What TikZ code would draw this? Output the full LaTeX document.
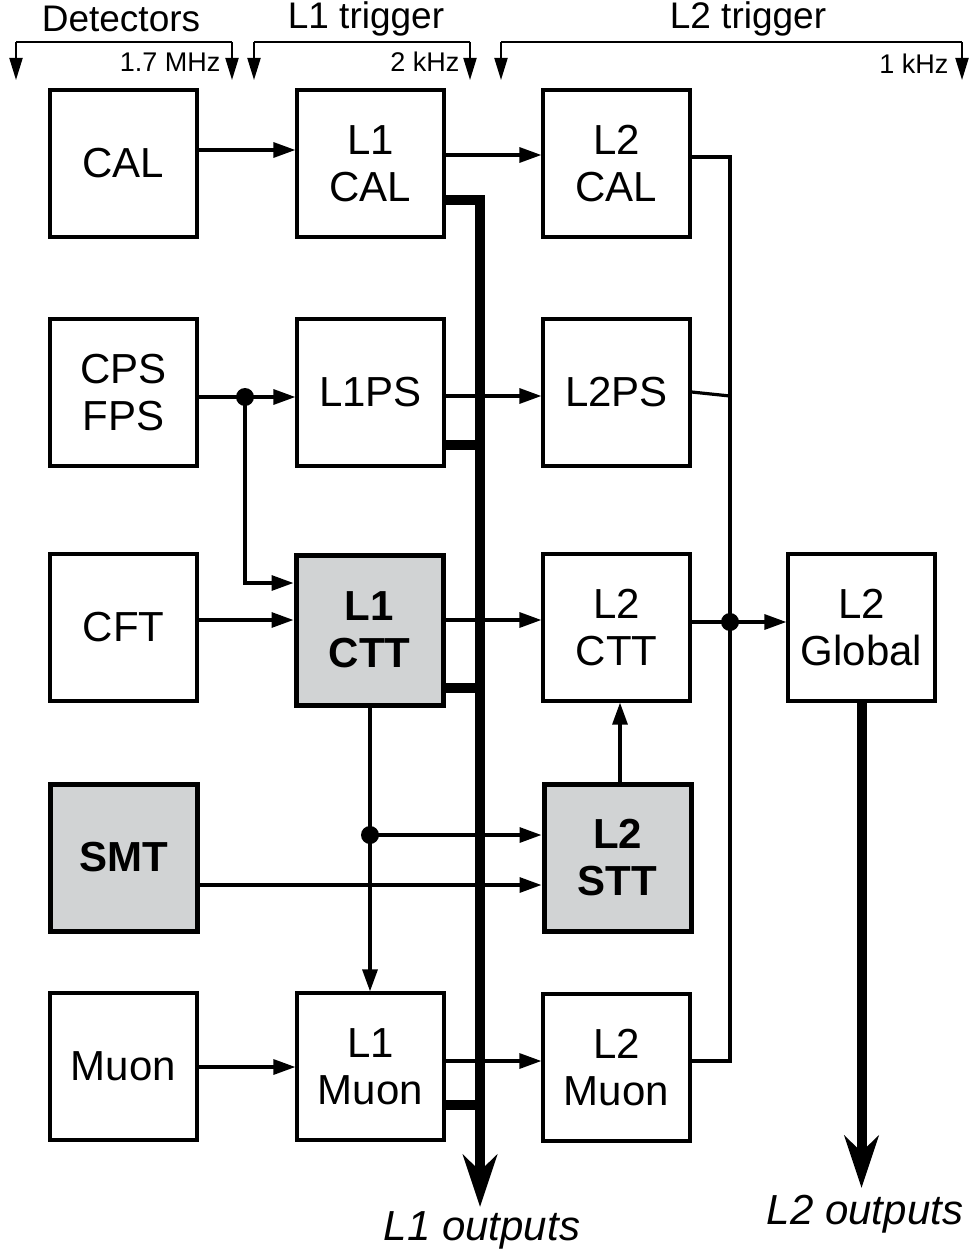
\documentclass[tikz,border=0pt]{standalone}
\usepackage{fontspec}
\setmainfont{Liberation Sans}
\usetikzlibrary{arrows.meta}
\definecolor{boxgray}{RGB}{209,211,212}
\begin{document}
\begin{tikzpicture}[x=1pt,y=-1pt,
  box/.style={draw, line width=3.2pt, minimum width=147pt, minimum height=147pt, inner sep=0pt, align=center, font=\fontsize{42}{47}\selectfont},
  graybox/.style={box, fill=boxgray, line width=5pt, font=\fontsize{42}{47}\selectfont\bfseries},
  conn/.style={line width=3.2pt},
  arr/.style={conn, -{Triangle[length=22pt,width=15pt]}},
  bus/.style={line width=10pt, line join=miter},
  busarr/.style={bus, -{Stealth[length=52pt,width=34pt,inset=16pt]}},
  dot/.style={circle, fill, inner sep=0pt, minimum size=18pt},
  hdr/.style={font=\fontsize{37}{40}\selectfont},
  rate/.style={font=\fontsize{27}{30}\selectfont, anchor=east},
  outtxt/.style={font=\fontsize{42}{46}\selectfont\itshape},
  brk/.style={line width=2pt},
  brkarr/.style={brk, -{Triangle[length=22pt,width=13pt]}},
]
\useasboundingbox (0,0) rectangle (969,1257);

% boxes
\node[box] (CAL) at (123.5,163.5) {CAL};
\node[box] (CPS) at (123.5,392.5) {CPS\\FPS};
\node[box] (CFT) at (123.5,627.5) {CFT};
\node[graybox] (SMT) at (123.5,857.5) {SMT};
\node[box] (MU) at (123.5,1066.5) {Muon};
\node[box] (L1CAL) at (370.5,163.5) {L1\\CAL};
\node[box] (L1PS) at (370.5,392.5) {L1PS};
\node[graybox, minimum height=150pt] (L1CTT) at (369.5,630) {L1\\CTT};
\node[box] (L1MU) at (370.5,1066.5) {L1\\Muon};
\node[box] (L2CAL) at (616.5,163.5) {L2\\CAL};
\node[box] (L2PS) at (616.5,392.5) {L2PS};
\node[box] (L2CTT) at (616.5,627.5) {L2\\CTT};
\node[graybox] (L2STT) at (617.5,857.5) {L2\\STT};
\node[box] (L2MU) at (616.5,1067.5) {L2\\Muon};
\node[box] (L2G) at (861.5,627.5) {L2\\Global};

% levels
\coordinate (h150) at (0,150);
\coordinate (h155) at (0,155);
\coordinate (h157) at (0,157);
\coordinate (h200) at (0,200);
\coordinate (h392) at (0,392);
\coordinate (h396) at (0,396);
\coordinate (h397) at (0,397);
\coordinate (h445) at (0,445);
\coordinate (h583) at (0,583);
\coordinate (h620) at (0,620);
\coordinate (h622) at (0,622);
\coordinate (h688) at (0,688);
\coordinate (h835) at (0,835);
\coordinate (h885) at (0,885);
\coordinate (h1061) at (0,1061);
\coordinate (h1067) at (0,1067);
\coordinate (h1105) at (0,1105);
\coordinate (busx) at (480,0);
\coordinate (colx) at (730,0);
\coordinate (l1end) at (480,1207);
\coordinate (l2end) at (0,1188);

% L1 output bus
\draw[busarr] (L1CAL.east |- h200) -- (busx |- h200) -- (l1end);
\draw[bus] (L1PS.east |- h445) -- (busx |- h445);
\draw[bus] (L1CTT.east |- h688) -- (busx |- h688);
\draw[bus] (L1MU.east |- h1105) -- (busx |- h1105);

% detector -> L1
\draw[arr] (CAL.east |- h150) -- (L1CAL.west |- h150);
\node[dot] (d1) at (245,397) {};
\draw[conn] (CPS.east |- h397) -- (d1.center);
\draw[arr] (d1.center) -- (L1PS.west |- h397);
\draw[arr] (d1.center) |- (L1CTT.west |- h583);
\draw[arr] (CFT.east |- h620) -- (L1CTT.west |- h620);
\draw[arr] (MU.east |- h1067) -- (L1MU.west |- h1067);
\draw[arr] (SMT.east |- h885) -- (L2STT.west |- h885);

% L1 CTT down
\node[dot] (d2) at (370,835) {};
\draw[arr] (L1CTT.south -| d2) -- (L1MU.north -| d2);
\draw[arr] (d2.center) -- (L2STT.west |- h835);

% L1 -> L2
\draw[arr] (L1CAL.east |- h155) -- (L2CAL.west |- h155);
\draw[arr] (L1PS.east |- h396) -- (L2PS.west |- h396);
\draw[arr] (L1CTT.east |- h620) -- (L2CTT.west |- h620);
\draw[arr] (L1MU.east |- h1061) -- (L2MU.west |- h1061);
\draw[arr] (L2STT.north -| 620,0) -- (L2CTT.south -| 620,0);

% L2 collector
\draw[conn] (L2CAL.east |- h157) -- (colx |- h157) -- (colx |- h1061) -- (L2MU.east |- h1061);
\draw[conn] (L2PS.east |- h392) -- (colx |- h396);
\node[dot] (d3) at (730,622) {};
\draw[conn] (L2CTT.east |- h622) -- (d3.center);
\draw[arr] (d3.center) -- (L2G.west |- h622);

% L2 output
\draw[busarr] (L2G.south) -- (L2G.south |- l2end);
\node[outtxt] (o1) at (482,1230) {L1 outputs};
\node[outtxt] (o2) at (865,1214) {L2 outputs};

% header
\node[hdr] (tDet) at (121,19) {Detectors};
\node[hdr] (tL1) at (366,19) {L1 trigger};
\node[hdr] (tL2) at (748,19) {L2 trigger};
\coordinate (b1l) at (16,42);
\coordinate (b1r) at (232,42);
\coordinate (b2l) at (254,42);
\coordinate (b2r) at (470,42);
\coordinate (b3l) at (501,42);
\coordinate (b3r) at (962,42);
\draw[brk] (b1l) -- (b1r);
\draw[brk] (b2l) -- (b2r);
\draw[brk] (b3l) -- (b3r);
\foreach \c in {b1l,b1r,b2l,b2r,b3l,b3r}{
  \draw[brkarr] (\c) -- ++(0,38);
}
\node[rate] (r1) at (224,62) {1.7 MHz};
\node[rate] (r2) at (463,62) {2 kHz};
\node[rate] (r3) at (952,64) {1 kHz};
\end{tikzpicture}
\end{document}
